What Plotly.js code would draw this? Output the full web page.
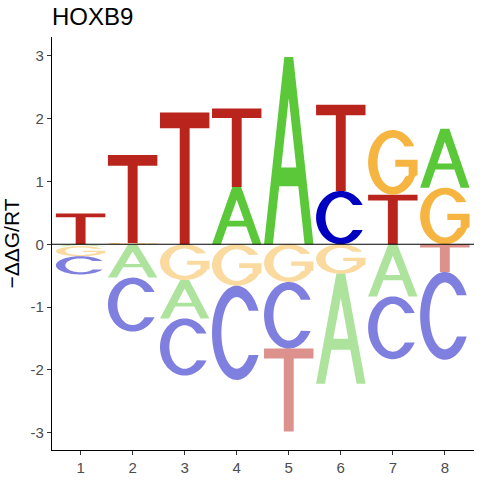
<!DOCTYPE html>
<html>
<head>
<meta charset="utf-8">
<script src="https://cdn.plot.ly/plotly-3.0.1.min.js"></script>
<style>html,body{margin:0;padding:0;background:#fff;}#chart{width:480px;height:480px;}</style>
</head>
<body>
<div id="chart"></div>
<script>
// ---- data ----
const chartTitle = "HOXB9";
const yTitle = "\u2212\u0394\u0394G/RT";
const positions = [1, 2, 3, 4, 5, 6, 7, 8];
const bases = ["A", "C", "G", "T"];
const valA = [-0.03, -0.53, -0.61, 0.91, 2.98, -1.75, -0.83, 0.94];
const valC = [-0.29, -0.86, -0.91, -1.50, -1.06, 0.85, -1.00, -1.40];
const valG = [-0.16, 0.02, -0.57, -0.66, -0.60, -0.47, 1.03, 0.90];
const valT = [0.49, 1.40, 2.10, 1.25, -1.32, 1.37, 0.79, -0.44];
const yTicks = [-3, -2, -1, 0, 1, 2, 3];

// ---- styles ----
const baseColor = {A: [91, 200, 58], C: [0, 0, 192], G: [245, 181, 64], T: [185, 36, 28]};
const letterWidth = 0.95;

// ---- glyph outlines in a unit box (u,v in [0,1]) ----
function ell(cx, cy, rx, ry, a0, a1, n) {
  const pts = [];
  for (let i = 0; i <= n; i++) {
    const a = (a0 + (a1 - a0) * i / n) * Math.PI / 180;
    pts.push([cx + rx * Math.cos(a), cy + ry * Math.sin(a)]);
  }
  return pts;
}
const RXo = 0.5, RYo = 0.5, RXi = 0.31, RYi = 0.38;
const glyphs = {
  A: [
    [[0, 0], [0.41, 1], [0.59, 1], [1, 0], [0.82, 0], [0.693, 0.31], [0.307, 0.31], [0.18, 0]],
    [[0.348, 0.41], [0.652, 0.41], [0.5, 0.78]]
  ],
  T: [
    [[0, 1], [1, 1], [1, 0.88], [0.6, 0.88], [0.6, 0], [0.4, 0], [0.4, 0.88], [0, 0.88]]
  ],
  C: [
    ell(0.5, 0.5, RXo, RYo, 28, 332, 60).concat(ell(0.5, 0.5, RXi, RYi, 322, 38, 60))
  ],
  G: [
    ell(0.5, 0.5, RXo, RYo, 30, 335, 60)
      .concat([[1.0, 0.30], [1.0, 0.54], [0.55, 0.54], [0.55, 0.43], [0.82, 0.43], [0.82, 0.30]])
      .concat(ell(0.5, 0.5, RXi, RYi, 325, 40, 60))
  ]
};

function glyphPath(letter, xc, y0, y1) {
  const x0 = xc - letterWidth / 2;
  let d = "";
  glyphs[letter].forEach(poly => {
    poly.forEach((p, i) => {
      const x = x0 + p[0] * letterWidth;
      const y = y0 + p[1] * (y1 - y0);
      d += (i === 0 ? "M" : "L") + x.toFixed(4) + "," + y.toFixed(4);
    });
    d += "Z";
  });
  return d;
}

const valuesByBase = {A: valA, C: valC, G: valG, T: valT};
const shapes = [];
positions.forEach((pos, i) => {
  const items = bases.map(b => ({b: b, v: valuesByBase[b][i]}));
  const posItems = items.filter(o => o.v > 0).sort((a, b) => a.v - b.v);
  const negItems = items.filter(o => o.v < 0).sort((a, b) => b.v - a.v);
  let top = 0;
  posItems.forEach(o => {
    const c = baseColor[o.b];
    shapes.push({type: "path", xref: "x", yref: "y", layer: "above",
      path: glyphPath(o.b, pos, top, top + o.v),
      fillcolor: "rgb(" + c.join(",") + ")", line: {width: 0}});
    top += o.v;
  });
  let bot = 0;
  negItems.forEach(o => {
    const c = baseColor[o.b];
    // negative letters are drawn upright, stacked downward, at half opacity
    shapes.push({type: "path", xref: "x", yref: "y", layer: "above",
      path: glyphPath(o.b, pos, bot + o.v, bot),
      fillcolor: "rgba(" + c.join(",") + ",0.5)", line: {width: 0}});
    bot += o.v;
  });
});
// zero line
shapes.push({type: "line", xref: "paper", yref: "y", x0: 0, x1: 1, y0: 0, y1: 0,
  layer: "above", line: {color: "#000", width: 1.1}});

const font = "Liberation Sans, Arial, sans-serif";
const trace = {
  x: positions, y: positions.map(() => 0), type: "scatter", mode: "markers",
  marker: {opacity: 0}, hoverinfo: "skip", showlegend: false
};
const layout = {
  width: 480, height: 480,
  margin: {l: 52, r: 6, t: 37, b: 30},
  paper_bgcolor: "#fff", plot_bgcolor: "#fff",
  font: {family: font, color: "#000"},
  title: {text: chartTitle, font: {family: font, size: 24, color: "#000"},
    x: 0, xref: "paper", xanchor: "left", y: 0.965, yref: "container", yanchor: "middle"},
  xaxis: {range: [0.45, 8.56], tickvals: positions, ticktext: positions.map(String),
    showgrid: false, zeroline: false, showline: true, linecolor: "#000", linewidth: 1.1,
    ticks: "outside", ticklen: 4, tickwidth: 1.1, tickcolor: "#333",
    tickfont: {family: font, size: 15, color: "#4D4D4D"}, fixedrange: true},
  yaxis: {range: [-3.275, 3.30], tickvals: yTicks, ticktext: yTicks.map(v => v < 0 ? "-" + Math.abs(v) : String(v)),
    showgrid: false, zeroline: false, showline: true, linecolor: "#000", linewidth: 1.1,
    ticks: "outside", ticklen: 4, tickwidth: 1.1, tickcolor: "#333",
    tickfont: {family: font, size: 15, color: "#4D4D4D"},
    title: {text: yTitle, font: {family: font, size: 21, color: "#000"}, standoff: 7}, fixedrange: true},
  shapes: shapes
};
Plotly.newPlot("chart", [trace], layout, {displayModeBar: false, staticPlot: true});
</script>
</body>
</html>
